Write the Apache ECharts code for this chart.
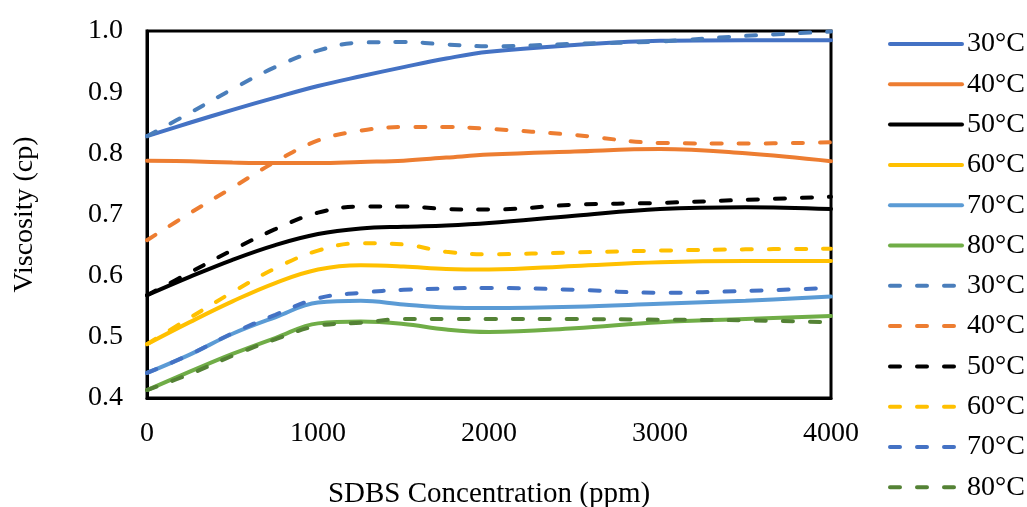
<!DOCTYPE html>
<html>
<head>
<meta charset="utf-8">
<script src="https://cdn.jsdelivr.net/npm/echarts@6/dist/echarts.min.js"></script>
<style>
html,body{margin:0;padding:0;background:#fff;}
#chart{width:1027px;height:507px;}
</style>
</head>
<body>
<div id="chart"></div>
<script>
// Concentrations (ppm)
const concentrations = [0, 250, 500, 750, 1000, 1250, 1500, 1750, 2000, 2500, 3000, 3500, 4000];
// Solid series
const solid30 = [0.828, 0.850, 0.871, 0.891, 0.910, 0.926, 0.941, 0.955, 0.966, 0.977, 0.984, 0.985, 0.985];
const solid40 = [0.788, 0.787, 0.785, 0.784, 0.784, 0.786, 0.788, 0.793, 0.798, 0.803, 0.807, 0.800, 0.787];
const solid50 = [0.568, 0.598, 0.626, 0.650, 0.668, 0.677, 0.680, 0.682, 0.686, 0.698, 0.709, 0.712, 0.709];
const solid60 = [0.488, 0.524, 0.558, 0.588, 0.610, 0.617, 0.615, 0.611, 0.610, 0.616, 0.622, 0.624, 0.624];
const solid70 = [0.441, 0.471, 0.505, 0.532, 0.556, 0.559, 0.553, 0.548, 0.547, 0.549, 0.554, 0.559, 0.566];
const solid80 = [0.413, 0.443, 0.472, 0.498, 0.522, 0.525, 0.521, 0.512, 0.508, 0.514, 0.524, 0.529, 0.534];
// Dashed series
const dashed30 = [0.828, 0.866, 0.905, 0.941, 0.968, 0.981, 0.982, 0.978, 0.975, 0.979, 0.983, 0.992, 0.999];
const dashed40 = [0.658, 0.702, 0.744, 0.786, 0.821, 0.837, 0.843, 0.843, 0.840, 0.830, 0.817, 0.816, 0.818];
const dashed50 = [0.568, 0.605, 0.642, 0.676, 0.703, 0.713, 0.713, 0.709, 0.708, 0.716, 0.719, 0.724, 0.729];
const dashed60 = [0.488, 0.531, 0.573, 0.612, 0.641, 0.653, 0.651, 0.639, 0.635, 0.638, 0.641, 0.643, 0.644];
const dashed70 = [0.441, 0.471, 0.506, 0.536, 0.563, 0.572, 0.577, 0.579, 0.580, 0.577, 0.572, 0.575, 0.580];
const dashed80 = [0.413, 0.439, 0.469, 0.496, 0.518, 0.523, 0.529, 0.529, 0.529, 0.529, 0.528, 0.527, 0.524];

const labels = ['30°C', '40°C', '50°C', '60°C', '70°C', '80°C'];
const solidData = [solid30, solid40, solid50, solid60, solid70, solid80];
const dashedData = [dashed30, dashed40, dashed50, dashed60, dashed70, dashed80];
const solidColors = ['#4472C4', '#ED7D31', '#000000', '#FFC000', '#5B9BD5', '#70AD47'];
const dashedColors = ['#4A7EBB', '#ED7D31', '#000000', '#FFC000', '#4472C4', '#548235'];

const yTicks = [0.4, 0.5, 0.6, 0.7, 0.8, 0.9, 1.0];
const xTicks = [0, 1000, 2000, 3000, 4000];

const FONT = '"Liberation Serif", "Times New Roman", serif';

function pairs(arr) { return concentrations.map((c, i) => [c, arr[i]]); }

const series = [];
const names = [];
labels.forEach((l, i) => {
  names.push(l);
  series.push({
    name: l, type: 'line', smooth: 0.4, showSymbol: false, symbol: 'none',
    data: pairs(solidData[i]),
    lineStyle: { color: solidColors[i], width: 4, cap: 'round' },
    itemStyle: { color: solidColors[i] }
  });
});
labels.forEach((l, i) => {
  const nm = l + ' ';
  names.push(nm);
  series.push({
    name: nm, type: 'line', smooth: 0.4, showSymbol: false, symbol: 'none',
    data: pairs(dashedData[i]),
    lineStyle: { color: dashedColors[i], width: 4, type: [10, 17], cap: 'round' },
    itemStyle: { color: dashedColors[i] }
  });
});

const chart = echarts.init(document.getElementById('chart'), null, { renderer: 'canvas' });
chart.setOption({
  animation: false,
  backgroundColor: '#fff',
  grid: { left: 147, right: 196, top: 31, bottom: 109, show: true, borderColor: '#000', borderWidth: 3,
          containLabel: false, outerBoundsMode: 'none' },
  legend: {
    orient: 'vertical', left: 883, top: 25, bottom: 0,
    data: names,
    itemWidth: 72, itemHeight: 20, itemGap: 12.3,
    itemStyle: { opacity: 0 },
    lineStyle: { width: 4, cap: 'round' },
    textStyle: { fontFamily: FONT, fontSize: 28, color: '#000' }
  },
  xAxis: {
    type: 'value', min: xTicks[0], max: xTicks[xTicks.length - 1], interval: 1000,
    name: 'SDBS Concentration (ppm)', nameLocation: 'middle', nameGap: 82,
    nameTextStyle: { fontFamily: FONT, fontSize: 29, color: '#000' },
    axisLine: { show: true, lineStyle: { color: '#000', width: 3 } },
    axisTick: { show: false },
    splitLine: { show: false },
    axisLabel: { fontFamily: FONT, fontSize: 28, color: '#000', margin: 22, formatter: v => String(v) }
  },
  yAxis: {
    type: 'value', min: yTicks[0], max: yTicks[yTicks.length - 1], interval: 0.1,
    name: 'Viscosity (cp)', nameLocation: 'middle', nameGap: 108, nameRotate: 90,
    nameTextStyle: { fontFamily: FONT, fontSize: 28, color: '#000' },
    axisLine: { show: true, lineStyle: { color: '#000', width: 3 } },
    axisTick: { show: false },
    splitLine: { show: false },
    axisLabel: { fontFamily: FONT, fontSize: 28, color: '#000', margin: 24, formatter: v => v.toFixed(1) }
  },
  series: series
});
</script>
</body>
</html>
